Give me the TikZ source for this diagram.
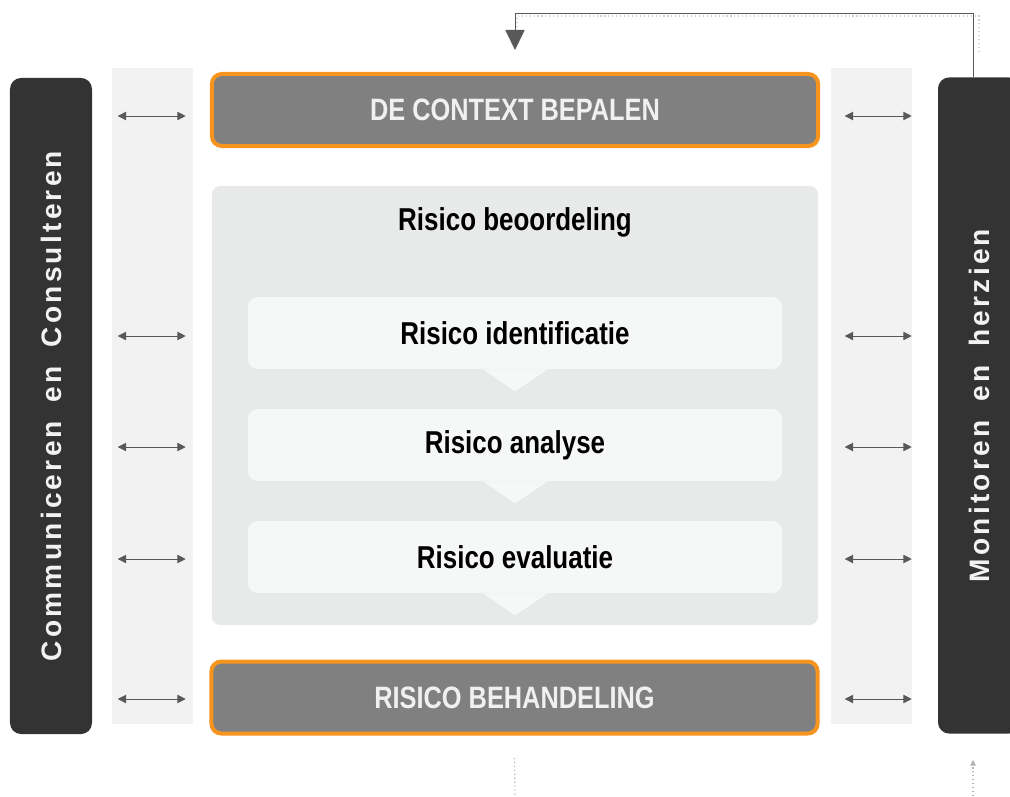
\documentclass[tikz,border=0pt]{standalone}
\usepackage{fontspec}
\setmainfont{Liberation Sans}
\newfontfamily\condensed{Liberation Sans}[FakeStretch=0.82]
\newfontfamily\spaced{Liberation Sans}[LetterSpace=11.5,WordSpace=1.7]
\usetikzlibrary{arrows.meta}
\definecolor{barDark}{HTML}{333333}
\definecolor{colLight}{HTML}{F2F2F2}
\definecolor{panelGrey}{HTML}{E8E9E9}
\definecolor{stepFill}{HTML}{F6F7F7}
\definecolor{boxGrey}{HTML}{808080}
\definecolor{edgeOrange}{HTML}{F7941D}
\definecolor{arrowGrey}{HTML}{595959}
\tikzset{
  darkbar/.style={fill=barDark, rounded corners=8pt, inner sep=0pt,
    minimum width=2.05cm, minimum height=16.4cm},
  bartext/.style={rotate=90, text=white!95!black,
    font=\spaced\bfseries\fontsize{20}{24}\selectfont},
  column/.style={fill=colLight, inner sep=0pt,
    minimum width=2.025cm, minimum height=16.4cm},
  stagebox/.style={fill=boxGrey, draw=edgeOrange, line width=0.1cm,
    rounded corners=7pt, minimum width=15.15cm, minimum height=1.8cm,
    text=white!94!black, font=\condensed\bfseries\fontsize{22}{26}\selectfont},
  panel/.style={fill=panelGrey, rounded corners=6pt,
    minimum width=15.15cm, minimum height=10.975cm},
  stepbox/.style={fill=stepFill, rounded corners=7pt,
    minimum width=13.35cm, minimum height=1.8cm,
    font=\condensed\bfseries\fontsize{22.5}{27}\selectfont},
  steptitle/.style={font=\condensed\bfseries\fontsize{22.5}{27}\selectfont},
  twoway/.style={arrowGrey, line width=0.7pt,
    {Triangle[length=6pt,width=6pt]}-{Triangle[length=6pt,width=6pt]}},
  feedback/.style={arrowGrey, line width=0.7pt,
    -{Triangle[length=0.5cm,width=0.48cm]}},
  loopline/.style={black!30, dotted, line width=0.8pt},
  ghost/.style={black!18, dotted, line width=0.8pt},
}

\begin{document}
\begin{tikzpicture}[x=0.025cm, y=-0.025cm]
\useasboundingbox (0,0) rectangle (1010,796);

% side columns and bars
\node[column] (lcol) at (152.5,396) {};
\node[column] (rcol) at (871.5,396) {};
\node[darkbar] (lbar) at (51,406) {};
\node[darkbar] (rbar) at (979,405.5) {};
\node[bartext] (ltext) at (lbar) {Communiceren en Consulteren};
\node[bartext] (rtext) at (rbar) {Monitoren en herzien};

% main stages
\node[stagebox] (ctx) at (515,110) {DE CONTEXT BEPALEN};
\node[stagebox] (beh) at (514.5,697.5) {RISICO BEHANDELING};

% risk assessment
\node[panel] (panel) at (515,405.5) {};
\node[steptitle] (title) at (515,222) {Risico beoordeling};
\node[stepbox] (ident) at (515,333) {Risico identificatie};
\node[stepbox] (anal) at (515,445) {Risico analyse};
\node[stepbox] (eval) at (515,557) {Risico evaluatie};
\foreach \s in {ident,anal,eval}
  \fill[stepFill] ([xshift=-0.8cm]\s.south) -- ([xshift=0.825cm]\s.south)
    -- ([yshift=-0.55cm]\s.south) -- cycle;

% two way arrows
\foreach \y in {116,336,447,559,699}{
  \draw[twoway] (lcol.west |- 0,\y) ++(6,0) -- ++(68,0);
  \draw[twoway] (rcol.west |- 0,\y) ++(14,0) -- ++(67,0);
}

% feedback loop
\draw[ghost] (979,52) -- (979,16) -- (517,16) -- (517,44);
\draw[feedback] (rbar.north -| 973,0) -- (973,13) -| (ctx.north |- 0,50);
\draw[loopline] (beh.south |- 0,758) -- (515,800);
\draw[loopline, -{Triangle[length=4pt,width=4pt]}] (973,800) -- (973,760);
\end{tikzpicture}
\end{document}
